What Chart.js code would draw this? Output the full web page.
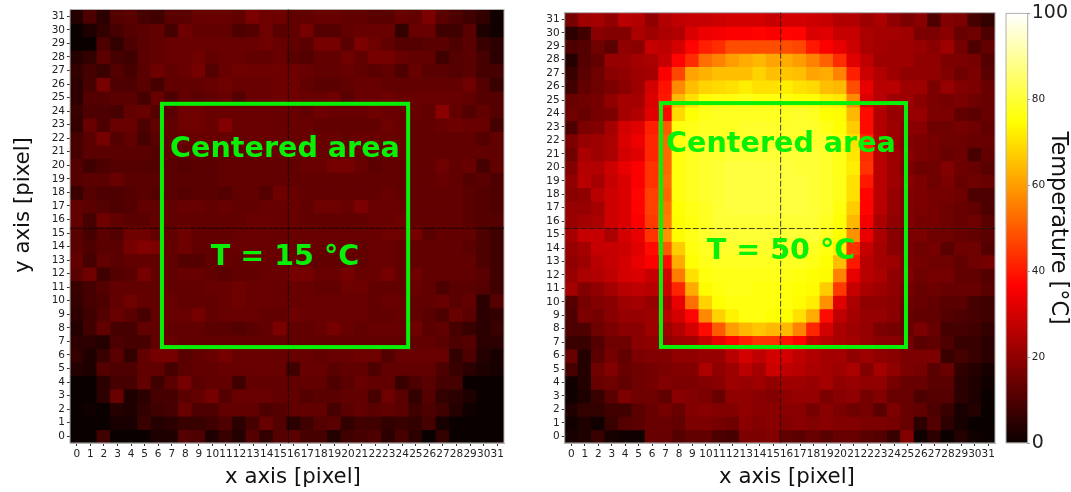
<!DOCTYPE html>
<html>
<head>
<meta charset="utf-8">
<style>
  html, body { margin: 0; background: #fff; width: 1071px; height: 492px; overflow: hidden; }
  canvas { position: absolute; top: 0; filter: blur(0.35px); }
</style>
<script src="https://cdn.jsdelivr.net/npm/chart.js@4"></script>
</head>
<body>
<canvas id="coldChart" width="520" height="492" style="left:0;width:520px;height:492px"></canvas>
<canvas id="hotChart" width="478" height="492" style="left:522px;width:478px;height:492px"></canvas>
<canvas id="barChart" width="71" height="492" style="left:1000px;width:71px;height:492px"></canvas>
<script>
const FONT = '"DejaVu Sans"';

const xLabels = ['0','1','2','3','4','5','6','7','8','9','10','11','12','13','14','15','16','17','18','19','20','21','22','23','24','25','26','27','28','29','30','31'];
const yLabels = [31,30,29,28,27,26,25,24,23,22,21,20,19,18,17,16,15,14,13,12,11,10,9,8,7,6,5,4,3,2,1,0];

// Temperatures per row, top row (y = 31) first
const coldRows = [
  [4,10,5,11,12,9,8,12,12,14,14,14,13,17,15,15, 13,13,14,14,13,13,12,12,14,13,17,12,10,8,6,1],
  [0,3,6,9,11,12,13,9,15,13,13,13,10,11,15,12, 13,16,11,11,13,14,14,14,6,14,14,8,8,12,3,1],
  [0,0,10,6,10,12,13,14,14,14,14,14,14,14,15,14, 13,12,16,16,12,17,15,13,11,11,12,12,10,12,7,5],
  [4,6,12,9,8,12,13,14,14,15,13,14,14,13,13,14, 12,11,13,13,15,13,16,16,14,13,13,8,11,12,9,5],
  [6,9,7,11,9,12,15,13,14,16,11,14,15,15,15,15, 15,14,13,13,14,13,12,13,10,14,12,12,11,12,9,9],
  [5,9,16,10,10,12,9,13,13,13,14,15,14,14,14,15, 15,13,12,12,13,14,14,13,13,13,13,13,13,15,11,7],
  [5,11,11,12,12,9,14,10,13,12,13,14,11,14,14,15, 15,14,14,15,12,14,14,15,14,14,14,14,14,13,11,11],
  [7,10,10,9,13,14,11,12,15,15,14,14,14,14,14,14, 14,13,15,14,14,14,15,14,14,14,13,19,13,11,13,11],
  [6,14,10,14,14,10,13,13,15,15,14,18,14,14,14,14, 14,14,13,13,13,13,13,15,14,13,13,14,15,14,14,9],
  [9,12,16,11,13,9,12,13,14,14,14,14,14,14,14,14, 14,14,14,14,13,14,14,14,14,13,13,13,13,13,11,13],
  [9,12,12,12,12,12,11,13,13,13,13,13,13,13,14,14, 14,14,14,14,14,14,13,14,14,13,13,13,13,13,13,13],
  [11,8,10,11,11,11,11,12,11,12,12,13,13,13,13,13, 13,14,14,16,16,14,12,13,13,13,13,15,13,14,9,13],
  [11,12,12,14,12,12,12,12,12,12,12,13,13,13,13,13, 13,13,13,13,13,13,13,13,13,13,13,14,13,11,12,10],
  [7,11,10,10,11,12,11,12,11,12,12,11,13,13,11,15, 14,13,13,13,13,13,13,14,13,13,13,13,13,12,11,10],
  [13,12,11,10,11,13,13,13,14,14,13,14,13,13,14,14, 14,13,15,15,14,17,14,14,14,13,13,13,13,12,11,10],
  [13,9,15,13,12,12,13,13,13,13,13,13,13,14,14,14, 14,13,13,13,13,13,14,14,15,13,13,13,13,12,11,11],
  [12,9,12,11,15,15,13,13,15,13,13,13,14,14,14,14, 14,14,14,14,14,14,14,15,15,16,12,13,13,13,10,8],
  [12,10,12,12,16,18,17,13,15,13,13,14,14,14,14,14, 14,14,14,14,14,13,14,14,13,13,13,13,13,12,10,8],
  [13,9,13,12,13,13,13,13,11,11,13,14,13,14,14,14, 14,13,13,13,13,13,14,14,13,13,13,13,13,13,10,8],
  [12,15,8,11,12,16,13,13,14,14,13,12,13,13,14,14, 16,16,14,14,16,14,14,16,13,15,13,13,13,13,12,8],
  [7,9,11,13,13,13,13,13,13,13,14,14,15,14,14,14, 14,14,13,13,15,15,13,13,13,14,13,10,12,12,11,8],
  [6,9,10,13,15,13,13,14,13,13,13,14,15,14,14,14, 14,14,14,14,14,14,13,14,14,13,13,14,12,13,5,11],
  [5,8,11,14,12,9,13,14,14,16,13,14,14,14,13,13, 15,14,14,14,14,14,13,13,14,13,12,10,14,12,5,6],
  [4,8,13,9,9,13,13,13,13,13,12,12,11,12,13,17, 13,13,14,16,14,13,14,14,14,15,12,13,9,7,5,7],
  [5,5,4,10,9,9,13,14,13,13,13,13,13,13,13,13, 13,13,13,13,13,13,13,13,13,13,13,12,10,11,5,5],
  [6,3,7,12,6,13,16,16,12,13,14,16,14,14,14,14, 14,14,13,14,14,15,15,11,14,14,14,14,6,10,4,2],
  [4,3,11,10,10,13,13,9,12,13,13,14,14,14,14,14, 8,14,14,12,13,13,10,13,13,13,13,10,7,5,3,2],
  [0,0,5,9,9,13,8,12,16,12,13,13,8,13,13,13, 13,13,13,10,12,14,13,13,7,10,12,9,9,0,0,0],
  [0,0,5,14,3,5,9,9,12,13,16,11,14,14,14,13, 13,11,12,12,13,13,9,15,12,6,11,6,5,3,0,0],
  [0,1,0,4,3,6,8,9,14,10,10,13,13,13,10,11, 13,13,13,9,12,13,12,13,12,8,10,8,4,1,0,0],
  [0,0,0,2,2,7,4,5,7,7,8,10,5,9,14,11, 5,8,11,12,6,8,8,6,7,6,9,2,0,0,0,0],
  [0,0,8,0,0,0,3,3,11,10,3,7,4,11,6,11, 12,9,9,4,8,9,10,5,9,5,0,6,0,0,0,0],
];

const hotRows = [
  [16,22,23,20,26,25,20,25,27,28,28,29,30,30,30,28, 30,30,29,28,25,25,22,24,20,17,19,10,18,17,9,6],
  [5,8,19,18,18,24,22,24,25,31,34,35,36,36,37,36, 37,37,31,32,28,28,24,23,23,22,17,17,19,14,15,10],
  [10,11,15,12,20,19,28,27,30,37,41,43,48,48,48,48, 48,47,40,36,33,29,24,23,22,22,21,19,22,16,10,13],
  [4,11,13,21,21,23,24,28,37,43,53,56,60,62,64,61, 62,60,56,51,43,32,27,22,22,22,20,20,17,17,16,11],
  [7,12,15,19,20,22,23,36,47,61,63,65,65,65,68,65, 66,65,61,62,56,41,29,25,22,20,20,20,18,15,17,12],
  [8,13,15,17,19,22,30,39,57,65,68,69,70,72,70,70, 72,70,69,65,64,48,33,26,26,22,22,17,21,18,17,14],
  [14,15,16,20,23,23,31,40,64,70,75,76,76,77,76,76, 76,75,75,72,71,57,31,26,22,22,19,17,16,17,15,14],
  [15,14,16,17,23,25,32,37,69,75,77,78,78,78,78,78, 78,79,78,75,74,64,38,25,21,21,21,17,17,13,12,14],
  [10,17,18,23,30,32,41,50,76,77,78,78,78,79,79,79, 79,79,79,77,75,67,38,25,22,19,19,15,15,16,15,13],
  [17,21,22,24,31,34,42,52,76,78,79,79,79,79,79,79, 79,79,79,79,77,70,42,26,22,18,17,16,15,15,14,14],
  [15,24,22,24,30,32,42,52,76,78,79,79,80,80,80,80, 80,80,80,79,77,71,43,26,22,19,17,16,14,15,9,13],
  [18,25,25,29,33,36,44,52,76,78,79,80,81,81,81,81, 81,80,80,79,77,72,44,26,22,17,15,15,18,15,14,12],
  [20,26,23,28,31,36,44,53,76,78,79,80,81,81,81,81, 81,81,80,79,77,70,40,26,22,19,17,15,17,14,15,14],
  [19,20,26,29,31,37,46,52,76,78,79,80,81,81,81,81, 81,81,80,79,77,70,37,26,21,18,17,16,16,15,10,10],
  [21,21,23,29,31,37,46,54,75,77,78,80,81,81,81,81, 81,81,80,79,76,67,37,26,21,18,17,16,15,14,13,10],
  [21,23,24,29,31,36,45,55,74,76,78,80,80,80,80,80, 80,80,80,78,75,64,35,24,20,18,16,16,15,14,15,12],
  [23,28,28,24,30,33,44,58,74,77,79,80,80,80,80,80, 80,80,80,78,75,58,33,24,19,17,17,15,15,14,13,12],
  [21,23,28,28,29,32,38,50,67,76,78,79,79,79,79,79, 79,79,78,76,72,44,28,23,19,17,15,16,12,15,15,11],
  [20,22,26,28,30,33,36,38,62,75,77,78,78,78,78,78, 78,78,77,75,65,40,26,23,22,17,16,15,15,13,15,16],
  [21,24,25,27,30,31,28,30,55,70,76,77,77,77,77,77, 77,76,75,74,56,33,26,24,20,18,15,16,16,13,13,11],
  [23,18,20,23,26,27,26,29,42,62,74,76,77,77,76,76, 76,75,74,67,45,28,24,22,20,16,14,15,14,14,14,12],
  [11,16,18,19,22,23,21,24,33,53,68,75,76,76,76,76, 76,74,72,58,32,24,20,20,19,15,14,13,12,12,9,8],
  [10,17,16,19,21,21,22,26,30,37,57,68,73,76,76,75, 75,70,62,38,27,23,21,21,19,14,13,13,11,10,9,8],
  [10,10,15,17,19,19,22,22,25,30,38,50,60,64,66,64, 64,56,42,30,24,22,21,17,16,14,17,14,9,9,8,6],
  [7,7,11,15,15,19,20,20,22,23,28,33,37,41,44,44, 39,36,28,26,24,23,21,19,19,16,12,13,10,7,7,5],
  [14,4,12,16,13,17,18,18,20,20,21,21,26,30,27,30, 30,27,25,23,23,20,22,20,19,17,17,17,7,9,7,5],
  [9,4,15,18,14,15,16,17,18,18,24,20,22,26,23,29, 27,26,24,23,22,24,18,23,20,17,16,12,14,6,4,2],
  [1,4,14,15,13,15,16,18,17,17,18,19,22,21,22,20, 22,22,21,23,20,21,20,20,16,14,14,12,12,5,3,1],
  [1,3,7,12,17,15,15,13,19,18,17,14,20,20,19,18, 20,21,21,17,19,20,16,18,14,14,10,11,11,5,3,0],
  [3,6,6,8,8,12,14,16,14,18,19,18,18,20,19,19, 19,19,16,19,17,15,16,12,17,14,13,10,7,2,4,0],
  [1,3,1,7,11,12,14,14,13,17,17,16,15,19,18,19, 18,19,18,19,18,18,17,17,16,14,5,11,5,2,0,0],
  [2,3,7,2,1,1,14,14,11,13,13,10,9,17,17,18, 13,12,14,12,14,14,12,11,7,18,1,5,0,4,1,0],
];

const barTicks = [0, 20, 40, 60, 80, 100];
const hotStops = [0, 36.5, 74.6, 100];

// matplotlib "hot" colormap on a 0-100 range
function hot(v) {
  const t = v / 100;
  const r = Math.min(1, 0.0416 + t / 0.365 * 0.9584);
  const g = Math.max(0, Math.min(1, (t - 0.365) / 0.381));
  const b = Math.max(0, (t - 0.746) / 0.254);
  return `rgb(${Math.round(r * 255)},${Math.round(g * 255)},${Math.round(b * 255)})`;
}

function text(ctx, str, x, y, font, color, rot) {
  ctx.save();
  ctx.translate(x, y);
  if (rot) ctx.rotate(rot);
  ctx.font = font;
  ctx.fillStyle = color;
  ctx.textAlign = 'center';
  ctx.textBaseline = 'middle';
  ctx.fillText(str, 0, 0);
  ctx.restore();
}

function heatmap(id, rows, o) {
  const overlay = {
    id: 'overlay',
    afterDraw(chart) {
      const { ctx, chartArea: a, scales: { y } } = chart;
      const px = v => a.left + (v + 0.5) * (a.right - a.left) / 32;
      ctx.save();
      ctx.strokeStyle = '#b0b0b0';
      ctx.lineWidth = 1;
      ctx.strokeRect(a.left, a.top, a.right - a.left, a.bottom - a.top);

      ctx.strokeStyle = o.crossColor;
      ctx.setLineDash(o.dash);
      ctx.beginPath();
      ctx.moveTo(px(o.crossX), a.top);
      ctx.lineTo(px(o.crossX), a.bottom);
      ctx.moveTo(a.left, y.getPixelForValue(o.crossY));
      ctx.lineTo(a.right, y.getPixelForValue(o.crossY));
      ctx.stroke();
      ctx.setLineDash([]);

      ctx.strokeStyle = '#08f008';
      ctx.lineWidth = 4;
      ctx.strokeRect(px(o.box[0]), y.getPixelForValue(o.box[3]), px(o.box[1]) - px(o.box[0]), y.getPixelForValue(o.box[2]) - y.getPixelForValue(o.box[3]));
      ctx.restore();

      text(ctx, 'Centered area', o.areaText[0], o.areaText[1], `bold 28.6px ${FONT}`, '#08f008');
      text(ctx, o.tempLabel, o.tempText[0], o.tempText[1], `bold 28.6px ${FONT}`, '#08f008');
      text(ctx, 'x axis [pixel]', o.xTitle, 477, `21.3px ${FONT}`, '#111');
      if (o.yTitle) text(ctx, 'y axis [pixel]', 23, 205, `21.3px ${FONT}`, '#111', -Math.PI / 2);
    },
  };

  return new Chart(document.getElementById(id), {
    type: 'bar',
    data: {
      labels: xLabels,
      datasets: rows.map((row, i) => ({
        data: row.map(() => [yLabels[i] - 0.5, yLabels[i] + 0.5]),
        backgroundColor: row.map(hot),
        borderWidth: 0,
        inflateAmount: 0.6,
        barPercentage: 1,
        categoryPercentage: 1,
        grouped: false,
      })),
    },
    options: {
      responsive: false,
      animation: false,
      layout: { padding: { top: o.top, right: o.right, left: 0, bottom: 0 } },
      plugins: { legend: { display: false }, tooltip: { enabled: false } },
      scales: {
        x: {
          afterFit: s => { s.height = 49; },
          grid: { offset: false, drawOnChartArea: false, tickLength: 3, tickColor: '#333' },
          border: { color: '#b0b0b0' },
          ticks: { color: '#222', font: { family: FONT, size: 10.5 }, maxRotation: 0, autoSkip: false, padding: 2 },
        },
        y: {
          min: -0.5,
          max: 31.5,
          afterFit: s => { s.width = o.axisWidth; },
          afterBuildTicks: s => { s.ticks = yLabels.map(v => ({ value: v })); },
          grid: { drawOnChartArea: false, tickLength: 3, tickColor: '#333' },
          border: { color: '#b0b0b0' },
          ticks: { color: '#222', font: { family: FONT, size: 10.5 }, autoSkip: false, padding: 2, callback: v => String(v) },
        },
      },
    },
    plugins: [overlay],
  });
}

heatmap('coldChart', coldRows, {
  top: 9.5, right: 16, axisWidth: 70, yTitle: true, xTitle: 293,
  crossX: 15.6, crossY: 15.35, crossColor: 'rgba(0,0,0,0.75)', dash: [5, 1],
  box: [6.28, 24.43, 6.58, 24.54],
  areaText: [285, 150], tempText: [285, 258], tempLabel: 'T = 15 °C',
});

heatmap('hotChart', hotRows, {
  top: 12.7, right: 5, axisWidth: 42.7, yTitle: false, xTitle: 265,
  crossX: 15.56, crossY: 15.45, crossColor: 'rgba(20,20,20,0.8)', dash: [6, 2],
  box: [6.66, 24.88, 6.64, 24.78],
  areaText: [259, 145], tempText: [259, 252], tempLabel: 'T = 50 °C',
});

// Colour bar: one floating bar filled along the value axis
new Chart(document.getElementById('barChart'), {
  type: 'bar',
  data: {
    labels: ['Temperature'],
    datasets: [{
      data: [[0, 100]],
      barPercentage: 1,
      categoryPercentage: 1,
      borderWidth: 0,
      backgroundColor(c) {
        const area = c.chart.chartArea;
        if (!area) return '#000';
        const g = c.chart.ctx.createLinearGradient(0, area.bottom, 0, area.top);
        hotStops.forEach(v => g.addColorStop(v / 100, hot(v)));
        return g;
      },
    }],
  },
  options: {
    responsive: false,
    animation: false,
    layout: { padding: { top: 12.7, left: 6, right: 0, bottom: 0 } },
    plugins: { legend: { display: false }, tooltip: { enabled: false } },
    scales: {
      x: {
        afterFit: s => { s.height = 49; },
        grid: { display: false },
        border: { display: false },
        ticks: { display: false },
      },
      y: {
        position: 'right',
        min: 0,
        max: 100,
        afterFit: s => { s.width = 43.3; },
        afterBuildTicks: s => { s.ticks = barTicks.map(v => ({ value: v })); },
        grid: { drawOnChartArea: false, tickLength: 2, tickColor: '#888' },
        border: { color: '#b0b0b0' },
        ticks: {
          color: '#222',
          padding: 2,
          font: c => ({ family: FONT, size: c.tick && (c.tick.value === 0 || c.tick.value === 100) ? 19 : 10.5 }),
        },
        title: { display: true, text: 'Temperature [°C]', color: '#111', font: { family: FONT, size: 22.4 }, padding: 0 },
      },
    },
  },
  plugins: [{
    id: 'frame',
    afterDraw(chart) {
      const { ctx, chartArea: a } = chart;
      ctx.save();
      ctx.strokeStyle = '#b0b0b0';
      ctx.strokeRect(a.left, a.top, a.right - a.left, a.bottom - a.top);
      ctx.restore();
    },
  }],
});
</script>
</body>
</html>
